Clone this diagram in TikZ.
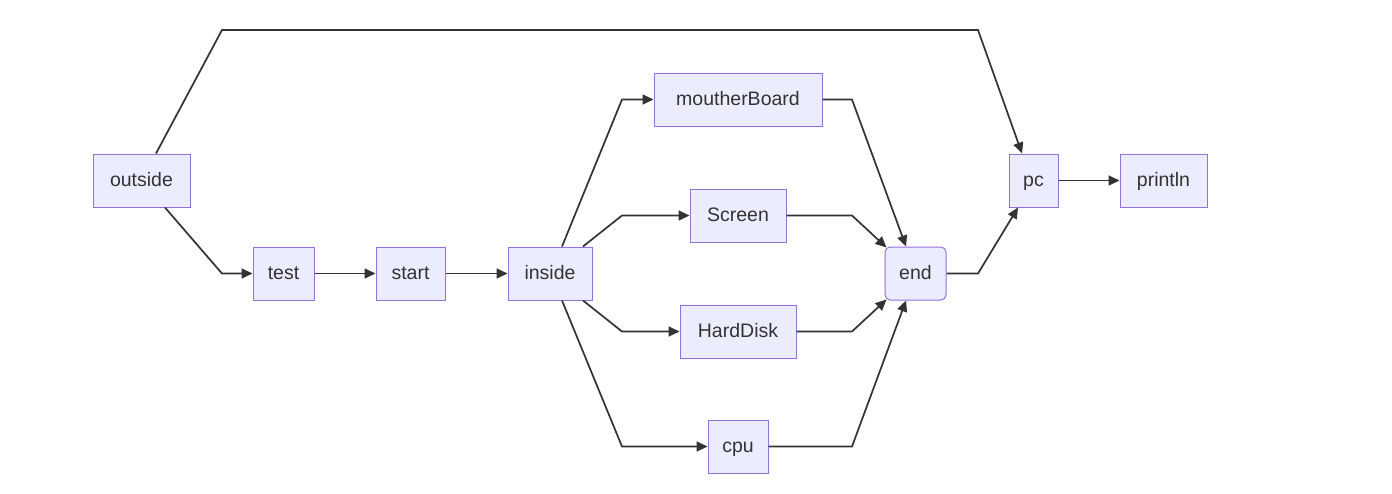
\documentclass[tikz,border=0pt]{standalone}
\usepackage{fontspec}
\setmainfont{Liberation Sans}
\usetikzlibrary{arrows.meta,calc}
\definecolor{nodefill}{HTML}{ECECFF}
\definecolor{nodeline}{HTML}{9370DB}
\definecolor{edgeline}{HTML}{333333}
\tikzstyle{box}=[draw=nodeline,fill=nodefill,line width=1pt,minimum height=53pt,inner xsep=2pt,inner ysep=0pt,text height=15pt,text depth=3pt,text=edgeline,font=\fontsize{19.5}{23}\selectfont]
\tikzstyle{flow}=[edgeline,line width=1.7pt,->]

\begin{document}
\begin{tikzpicture}[x=1pt,y=-1pt,>={Triangle[length=11pt,width=10pt]}]

  \fill[white] (0,0) rectangle (1392,493);
  \useasboundingbox (0,0) rectangle (1392,493);

  % nodes
  \node[box,minimum width=97pt] (outside) at (141.5,180.5) {outside};
  \node[box,minimum width=61pt] (test) at (283.5,273.5) {test};
  \node[box,minimum width=69pt] (start) at (410.5,273.5) {start};
  \node[box,minimum width=84pt] (inside) at (550,273.5) {inside};
  \node[box,minimum width=168pt] (board) at (738,99.5) {moutherBoard};
  \node[box,minimum width=96pt] (screen) at (738,215.5) {Screen};
  \node[box,minimum width=116pt] (disk) at (738,331.5) {HardDisk};
  \node[box,minimum width=60pt] (cpu) at (738,446.5) {cpu};
  \node[box,rounded corners=5pt,minimum width=61pt] (end) at (915.5,273.5) {end};
  \node[box,minimum width=49pt] (pc) at (1033.5,180.5) {pc};
  \node[box,minimum width=87pt] (println) at (1163.5,180.5) {println};

  % outside to pc, over the top
  \draw[flow] ($(outside.north)+(14.5,0)$) -- (222,30) -- (978,30) -- ($(pc.north)+(-11.5,0)$);

  % main line
  \draw[flow] ($(outside.south)+(23.5,0)$) -- (222,273.5) -- (test.west);
  \draw[flow] (test) -- (start);
  \draw[flow] (start) -- (inside);

  % parts
  \draw[flow] ($(inside.north)+(12,0)$) -- (622,99.5) -- (board.west);
  \draw[flow] ($(inside.north)+(33,0)$) -- (622,215.5) -- (screen.west);
  \draw[flow] ($(inside.south)+(33,0)$) -- (622,331.5) -- (disk.west);
  \draw[flow] ($(inside.south)+(12,0)$) -- (622,446.5) -- (cpu.west);

  % into end
  \draw[flow] (board.east) -- (852,99.5) -- ($(end.north)+(-9.5,0)$);
  \draw[flow] (screen.east) -- (852,215.5) -- ($(end.north west)+(2,1)$);
  \draw[flow] (disk.east) -- (852,331.5) -- ($(end.south west)+(2,-1)$);
  \draw[flow] (cpu.east) -- (852,446.5) -- ($(end.south)+(-9.5,0)$);

  % end to pc
  \draw[flow] (end.east) -- (978,273.5) -- ($(pc.south)+(-15.5,0)$);
  \draw[flow] (pc) -- (println);

\end{tikzpicture}
\end{document}
